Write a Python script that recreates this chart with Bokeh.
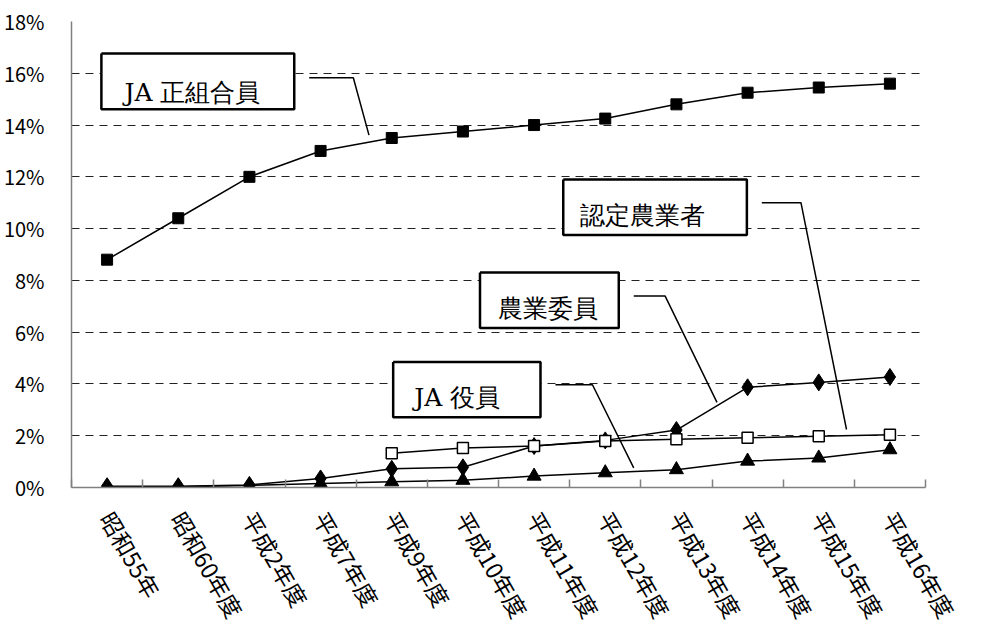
import math
import numpy as np
from bokeh.plotting import figure
from bokeh.models import Range1d, FixedTicker, PrintfTickFormatter, Label
from bokeh.core.properties import value
from bokeh.embed import file_html
from bokeh.resources import INLINE

# --- data (percent) ---
years = ["昭和55年", "昭和60年度", "平成2年度", "平成7年度", "平成9年度", "平成10年度",
         "平成11年度", "平成12年度", "平成13年度", "平成14年度", "平成15年度", "平成16年度"]
ja_members = [8.8, 10.4, 12.0, 13.0, 13.5, 13.75, 14.0, 14.25, 14.8, 15.25, 15.45, 15.6]
farm_committee = [0.05, 0.05, 0.1, 0.35, 0.72, 0.78, 1.6, 1.82, 2.22, 3.87, 4.06, 4.27]
certified_farmers = [np.nan, np.nan, np.nan, np.nan, 1.32, 1.53, 1.6, 1.8, 1.86, 1.92, 1.98, 2.04]
ja_officers = [0.03, 0.03, 0.08, 0.15, 0.22, 0.28, 0.44, 0.57, 0.69, 1.02, 1.14, 1.46]

y_ticks = list(range(0, 19, 2))

# category i sits in the middle of slot [i, i+1]
xs = [i + 0.5 for i in range(len(years))]

JP = "Noto Sans CJK JP"
SERIF = "DejaVu Serif"

p = figure(width=1000, height=635, output_backend="svg", toolbar_location=None,
           x_range=Range1d(0, len(years)), y_range=Range1d(0, 18),
           min_border_left=71, min_border_right=75, min_border_top=21, min_border_bottom=147)
p.outline_line_color = None
p.background_fill_color = "white"
p.border_fill_color = "white"

# axes
xa = p.xaxis[0]
xa.ticker = FixedTicker(ticks=xs, minor_ticks=list(range(len(years) + 1)))
xa.major_label_overrides = {x: lab for x, lab in zip(xs, years)}
xa.major_label_orientation = -math.pi / 3
xa.major_tick_line_color = None
xa.minor_tick_in = 8
xa.minor_tick_out = 0
xa.minor_tick_line_color = "#808080"
xa.minor_tick_line_width = 1.5
xa.axis_line_color = "#808080"
xa.axis_line_width = 1.5
xa.major_label_text_font = JP
xa.major_label_text_font_size = "23px"
xa.major_label_text_color = "black"
xa.major_label_standoff = 20

ya = p.yaxis[0]
ya.ticker = FixedTicker(ticks=y_ticks)
ya.formatter = PrintfTickFormatter(format="%d%%")
ya.major_tick_line_color = None
ya.minor_tick_line_color = None
ya.axis_line_color = "#808080"
ya.axis_line_width = 1.5
ya.major_label_text_font = JP
ya.major_label_text_font_size = "20px"
ya.major_label_text_color = "black"
ya.major_label_standoff = 21

p.xgrid.grid_line_color = None
p.ygrid.ticker = FixedTicker(ticks=y_ticks[1:])
p.ygrid.grid_line_color = "#222222"
p.ygrid.grid_line_dash = "8 6"
p.ygrid.grid_line_width = 1

# series
p.line(xs, ja_members, line_color="black", line_width=1.5)
p.scatter(xs, ja_members, marker="square", size=11, fill_color="black", line_color="black")

p.line(xs, certified_farmers, line_color="black", line_width=1.5)
p.line(xs, farm_committee, line_color="black", line_width=1.5)
p.line(xs, ja_officers, line_color="black", line_width=1.5)

p.scatter(xs, farm_committee, marker="diamond", size=17, fill_color="black", line_color="black")
p.scatter(xs, certified_farmers, marker="square", size=11, fill_color="white",
          line_color="black", line_width=1.5)
p.scatter(xs, ja_officers, marker="triangle", size=14, fill_color="black", line_color="black")

# callout boxes with leader lines
callouts = [
    # text, box (left, right, top, bottom), text centre, leader path
    ("JA 正組合員", (0.42, 3.13, 16.76, 14.61), (1.70, 15.25),
     ([3.34, 3.96, 4.18], [15.83, 15.83, 13.61])),
    ("認定農業者", (6.91, 9.49, 11.90, 9.75), (8.03, 10.52),
     ([9.70, 10.25, 10.89], [11.0, 11.0, 2.24])),
    ("農業委員", (5.74, 7.69, 8.30, 6.16), (6.70, 6.93),
     ([7.90, 8.34, 9.07], [7.40, 7.40, 3.29])),
    ("JA 役員", (4.52, 6.59, 4.85, 2.71), (5.42, 3.46),
     ([6.80, 7.32, 7.90], [3.97, 3.97, 0.76])),
]
for text, (l, r, t, b), (tx, ty), (lx, ly) in callouts:
    # box outline drawn as a closed black path over a white fill
    p.quad(left=[l], right=[r], top=[t], bottom=[b], fill_color="white", line_color=None)
    p.line([l, r, r, l, l], [t, t, b, b, t], line_color="black", line_width=2.5)
    p.text(x=[tx], y=[ty], text=[text], text_font=value(SERIF), text_font_size="25px",
           text_align="center", text_baseline="middle", text_color="black")
    p.line(lx, ly, line_color="black", line_width=1.5)

p.add_layout(Label(x=12.31, y=-1.70, text="年度", text_font=JP, text_font_size="23px",
                   text_align="left", text_baseline="middle", text_color="black"))

open("out.html", "w").write(file_html(p, INLINE))
